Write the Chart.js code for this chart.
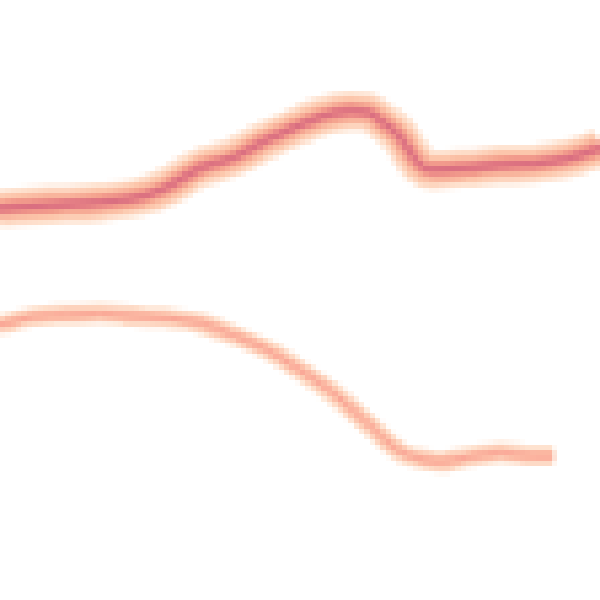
<!DOCTYPE html>
<html>
<head>
<meta charset="utf-8">
<script src="https://cdn.jsdelivr.net/npm/chart.js@4.4.1/dist/chart.umd.min.js"></script>
<style>
  html, body { margin: 0; padding: 0; background: #fff; }
  #heat { display: block; image-rendering: pixelated; }
</style>
</head>
<body>
<canvas id="heat" width="112" height="112" style="width:600px;height:600px"></canvas>
<script>
/* two smoothed traces, rendered small and blown up so the cells show */

const upperX = [0, 8.3, 16.7, 23.3, 27.8, 33.3, 38.8, 44.5, 50, 53.3, 58.3, 61.2, 63.8, 66.7, 68.3, 70, 72.2, 77.8, 83.3, 88.8, 94.5, 100];
const upperY = [65.3, 65.8, 66.3, 67.2, 68.8, 72, 73.7, 76.7, 79.2, 80.5, 81.5, 81.3, 79.7, 77.2, 74.7, 72.5, 71.7, 72, 72.5, 72.7, 73.5, 75.3];

const lowerX = [0, 5.5, 11.2, 16.7, 22.2, 27.8, 33.3, 38.8, 44.5, 50, 55.5, 61.2, 66.7, 69.5, 73.3, 77.8, 83.3, 88.8, 92.2];
const lowerY = [45.8, 47.2, 47.5, 47.7, 47.3, 47, 46.2, 44.2, 41.7, 38.3, 34.5, 29.5, 24.7, 23.7, 23, 23.8, 24.5, 24, 24];

const toPoints = (xs, ys) => xs.map((x, i) => ({ x, y: ys[i] }));

// halo layers, widest first (widths in cells)
const upperLayers = [
  { color: "#fee3d1", width: 7.4 },
  { color: "#fcc6ab", width: 5.4 },
  { color: "#f4a28e", width: 3.4 },
  { color: "#e98386", width: 1.7 },
  { color: "#d4687f", width: 0.75 },
];
const lowerLayers = [
  { color: "#fee2cf", width: 4.0 },
  { color: "#fcc2aa", width: 2.4 },
  { color: "#f9a494", width: 0.9 },
];

function layer(points, l, i) {
  return {
    data: points,
    order: 10 - i, // chart.js puts low order on top, so the wide halo goes under
    borderColor: l.color,
    borderWidth: l.width,
    pointRadius: 0,
    fill: false,
    tension: 0.4,
    cubicInterpolationMode: "monotone",
    borderCapStyle: "butt",
  };
}

const datasets = [
  ...lowerLayers.map((l, i) => layer(toPoints(lowerX, lowerY), l, i)),
  ...upperLayers.map((l, i) => layer(toPoints(upperX, upperY), l, i)),
];

new Chart(document.getElementById("heat"), {
  type: "line",
  data: { datasets },
  options: {
    responsive: false,
    animation: false,
    layout: { padding: 0 },
    plugins: { legend: { display: false }, tooltip: { enabled: false } },
    scales: {
      x: { type: "linear", min: 0, max: 100, display: false },
      y: { type: "linear", min: 0, max: 100, display: false },
    },
  },
});
</script>
</body>
</html>
